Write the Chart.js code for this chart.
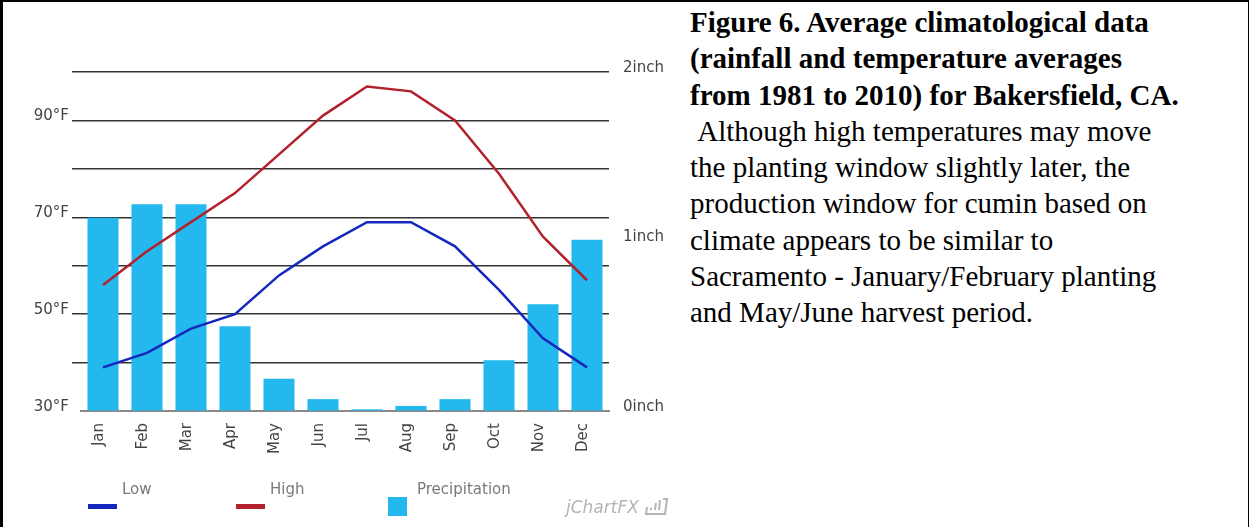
<!DOCTYPE html>
<html>
<head>
<meta charset="utf-8">
<title>Bakersfield climate</title>
<script src="https://cdn.jsdelivr.net/npm/chart.js@4.4.1/dist/chart.umd.min.js"></script>
<style>
    html, body { margin: 0; padding: 0; background: #fff; }
    #page { position: relative; width: 1249px; height: 527px; overflow: hidden; background: #fff; }
    #chart-box { position: absolute; left: 0; top: 0; width: 680px; height: 527px; }
    #frame {
        position: absolute; left: 0; top: 0; width: 1249px; height: 527px; box-sizing: border-box;
        border-left: 3px solid #000; border-top: 2px solid #000; border-right: 1px solid #000;
        pointer-events: none;
    }
    #caption {
        position: absolute; left: 690px; top: 4px;
        font-family: 'Liberation Serif', 'Times New Roman', serif;
        font-size: 29px; line-height: 36.3px; color: #000; white-space: nowrap;
    }
</style>
</head>
<body>
<div id="page">
    <div id="chart-box"><canvas id="climateChart" width="680" height="527"></canvas></div>
    <div id="caption">
        <b>Figure 6. Average climatological data</b><br>
        <b>(rainfall and temperature averages</b><br>
        <b>from 1981 to 2010) for Bakersfield, CA.</b><br>
        &nbsp;Although high temperatures may move<br>
        the planting window slightly later, the<br>
        production window for cumin based on<br>
        climate appears to be similar to<br>
        Sacramento - January/February planting<br>
        and May/June harvest period.
    </div>
    <div id="frame"></div>
</div>

<script>
// Data
const months = ['Jan', 'Feb', 'Mar', 'Apr', 'May', 'Jun', 'Jul', 'Aug', 'Sep', 'Oct', 'Nov', 'Dec'];
const lowTemps = [39, 42, 47, 50, 58, 64, 69, 69, 64, 55, 45, 39];
const highTemps = [56, 63, 69, 75, 83, 91, 97, 96, 90, 79, 66, 57];
const precipInches = [1.14, 1.22, 1.22, 0.50, 0.19, 0.07, 0.01, 0.03, 0.07, 0.30, 0.63, 1.01];
const tempLabelTicks = [30, 50, 70, 90];   // only these get a °F label
const tempRange = [30, 100];
const rainRange = [0, 2];

const GRID = '#333';
const TICK_TEXT = '#444';
const FONT = '"DejaVu Sans", Verdana, sans-serif';

// Legend drawn under the axis, jChartFX style (text above-right of swatch)
const legendSlots = [88, 236, 388];
const bottomLegend = {
    id: 'bottomLegend',
    afterDraw(chart) {
        const ctx = chart.ctx;
        ctx.save();
        ctx.font = '15px ' + FONT;
        ctx.textBaseline = 'middle';
        ctx.textAlign = 'left';
        chart.data.datasets.forEach((ds, i) => {
            const x = legendSlots[i];
            if (ds.type === 'line') {
                ctx.fillStyle = ds.borderColor;
                ctx.fillRect(x, 504, 29, 5);
                ctx.fillStyle = '#7a7a7a';
                ctx.fillText(ds.label, x + 34, 490);
            } else {
                ctx.fillStyle = ds.backgroundColor;
                ctx.fillRect(x, 497, 19, 19);
                ctx.fillStyle = '#7a7a7a';
                ctx.fillText(ds.label, x + 29, 490);
            }
        });
        // watermark text + little logo
        ctx.font = 'italic 17px ' + FONT;
        ctx.fillStyle = '#b4b4b4';
        ctx.fillText('jChartFX', 566, 509);
        ctx.strokeStyle = '#b4b4b4';
        ctx.lineWidth = 2;
        ctx.beginPath();
        ctx.moveTo(647, 507); ctx.lineTo(646, 514); ctx.lineTo(665, 514);
        ctx.lineTo(667, 499); ctx.lineTo(663, 499);
        ctx.moveTo(651, 508); ctx.lineTo(651, 510);
        ctx.moveTo(656, 503); ctx.lineTo(655, 510);
        ctx.moveTo(660, 500); ctx.lineTo(659, 510);
        ctx.stroke();
        ctx.restore();
    }
};

function init() {
    const ctx = document.getElementById('climateChart').getContext('2d');
    new Chart(ctx, {
        type: 'bar',
        data: {
            labels: months,
            datasets: [
                {
                    type: 'line',
                    label: 'Low',
                    data: lowTemps,
                    borderColor: '#1428be',
                    borderWidth: 2.5,
                    pointRadius: 0,
                    tension: 0,
                    yAxisID: 'y',
                    order: 1
                },
                {
                    type: 'line',
                    label: 'High',
                    data: highTemps,
                    borderColor: '#b3222c',
                    borderWidth: 2.5,
                    pointRadius: 0,
                    tension: 0,
                    yAxisID: 'y',
                    order: 2
                },
                {
                    type: 'bar',
                    label: 'Precipitation',
                    data: precipInches,
                    backgroundColor: '#23b8ee',
                    barPercentage: 0.705,
                    categoryPercentage: 1,
                    yAxisID: 'y1',
                    order: 3
                }
            ]
        },
        options: {
            responsive: false,
            animation: false,
            devicePixelRatio: 1,
            layout: { padding: { top: 72, left: 0, right: 0, bottom: 0 } },
            plugins: {
                legend: { display: false },
                tooltip: { enabled: false }
            },
            scales: {
                x: {
                    z: 1,
                    grid: { display: false, drawTicks: false },
                    border: { display: true, color: '#8a8a8a', width: 2 },
                    ticks: {
                        color: TICK_TEXT, font: { family: FONT, size: 15 },
                        minRotation: 90, maxRotation: 90, autoSkip: false,
                        padding: 12, labelOffset: -4
                    },
                    afterFit: s => { s.height = 116; }
                },
                y: {
                    position: 'left',
                    min: tempRange[0], max: tempRange[1],
                    grid: {
                        color: c => c.tick && c.tick.value === tempRange[0] ? 'rgba(0,0,0,0)' : GRID,
                        tickColor: c => c.tick && c.tick.value === tempRange[0] ? 'rgba(0,0,0,0)' : GRID,
                        lineWidth: 1.5,
                        drawTicks: true,
                        tickLength: 9
                    },
                    border: { display: false },
                    ticks: {
                        stepSize: 10,
                        color: TICK_TEXT, font: { family: FONT, size: 15 },
                        padding: 3, labelOffset: -4,
                        callback: v => tempLabelTicks.includes(v) ? v + '°F' : ''
                    },
                    afterFit: s => { s.width = 81; }
                },
                y1: {
                    position: 'right',
                    min: rainRange[0], max: rainRange[1],
                    grid: { drawOnChartArea: false, drawTicks: false },
                    border: { display: false },
                    ticks: {
                        stepSize: 1,
                        color: TICK_TEXT, font: { family: FONT, size: 15 },
                        padding: 14, labelOffset: -4,
                        callback: v => v + 'inch'
                    },
                    afterFit: s => { s.width = 71; }
                }
            }
        },
        plugins: [bottomLegend]
    });
}

window.addEventListener('DOMContentLoaded', init);
</script>
</body>
</html>
